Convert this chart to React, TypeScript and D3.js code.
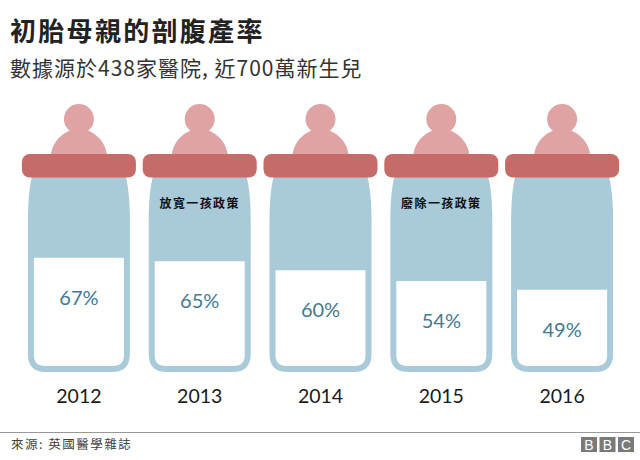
import * as d3 from "d3"

const years = ["2012", "2013", "2014", "2015", "2016"]
const rates = [67, 65, 60, 54, 49]
const policyYears = ["2013", "2015"]
const policyLabels = ["放寬一孩政策", "廢除一孩政策"]

const titleText = "初胎母親的剖腹產率"
const subtitleText = "數據源於438家醫院, 近700萬新生兒"
const source = "來源: 英國醫學雜誌"

const cjk = "'Noto Sans CJK TC', sans-serif"
const latin = "Lato, 'Noto Sans', sans-serif"

const width = 640
const height = 460

// bottles sit side by side, one band per year
const x = d3.scaleBand<string>().domain(years).range([18.5, 622.5]).paddingInner(0).paddingOuter(0)
const y = d3.scaleLinear().domain([0, 100]).range([377, 199])

const bottleTop = 177
const bottleBottom = 372
const wall = 6

function bodyPath() {
  const p = d3.path()
  p.moveTo(-47, bottleTop)
  p.bezierCurveTo(-49.5, 187, -51, 202, -51, 222)
  p.lineTo(-51, bottleBottom - 18)
  p.quadraticCurveTo(-51, bottleBottom, -33, bottleBottom)
  p.lineTo(33, bottleBottom)
  p.quadraticCurveTo(51, bottleBottom, 51, bottleBottom - 18)
  p.lineTo(51, 222)
  p.bezierCurveTo(51, 202, 49.5, 187, 47, bottleTop)
  p.closePath()
  return p.toString()
}

function milkPath(value: number) {
  const top = y(value)
  const left = -51 + wall
  const right = 51 - wall
  const bottom = bottleBottom - wall
  const p = d3.path()
  p.moveTo(left, top)
  p.lineTo(right, top)
  p.lineTo(right, bottom - 11)
  p.quadraticCurveTo(right, bottom, right - 11, bottom)
  p.lineTo(left + 11, bottom)
  p.quadraticCurveTo(left, bottom, left, bottom - 11)
  p.closePath()
  return p.toString()
}

function nipplePath() {
  const p = d3.path()
  p.moveTo(-28, 155)
  p.bezierCurveTo(-27, 142, -15, 129, 0, 129)
  p.bezierCurveTo(15, 129, 27, 142, 28, 155)
  p.closePath()
  return p.toString()
}

export default function App() {
  return (
    <svg width={width} height={height} style={{ position: "absolute", left: 0, top: 0, background: "#fff" }}>
      <text x={10} y={41} fontFamily={cjk} fontWeight={700} fontSize={26} letterSpacing={2.3} fill="#222">{titleText}</text>
      <text x={10} y={76} fontFamily={cjk} fontSize={21} letterSpacing={1} fill="#333">{subtitleText}</text>

      {years.map((year, i) => {
        const cx = x(year)! + x.bandwidth() / 2
        const policy = policyYears.indexOf(year)
        return (
          <g key={year} transform={`translate(${cx},0)`}>
            <path d={bodyPath()} fill="#a9cad9" />
            <path d={milkPath(rates[i])} fill="#fff" />
            <circle cx={0} cy={119} r={15} fill="#dfa3a3" />
            <path d={nipplePath()} fill="#dfa3a3" />
            <rect x={-57} y={154} width={114} height={23.5} rx={8} fill="#c66b67" />
            {policy >= 0 && (
              <text y={208} textAnchor="middle" fontFamily={cjk} fontWeight={700} fontSize={12} letterSpacing={1.4} fill="#111">
                {policyLabels[policy]}
              </text>
            )}
            <text y={y(rates[i]) + 47} textAnchor="middle" fontFamily={latin} fontSize={20} fill="#3f7a96">
              {rates[i]}%
            </text>
            <text y={403} textAnchor="middle" fontFamily={latin} fontSize={19.5} fill="#1a1a1a">{year}</text>
          </g>
        )
      })}

      <line x1={0} x2={width} y1={432.5} y2={432.5} stroke="#999" />
      <text x={11} y={449} fontFamily={cjk} fontSize={12.5} letterSpacing={1.5} fill="#404040">{source}</text>

      {["B", "B", "C"].map((letter, i) => (
        <g key={i} transform={`translate(${581 + i * 18.5},437)`}>
          <rect width={16} height={15} fill="#7a7a7a" />
          <text x={8} y={12.5} textAnchor="middle" fontFamily="'Liberation Sans', sans-serif" fontSize={14} fill="#fff">{letter}</text>
        </g>
      ))}
    </svg>
  )
}
